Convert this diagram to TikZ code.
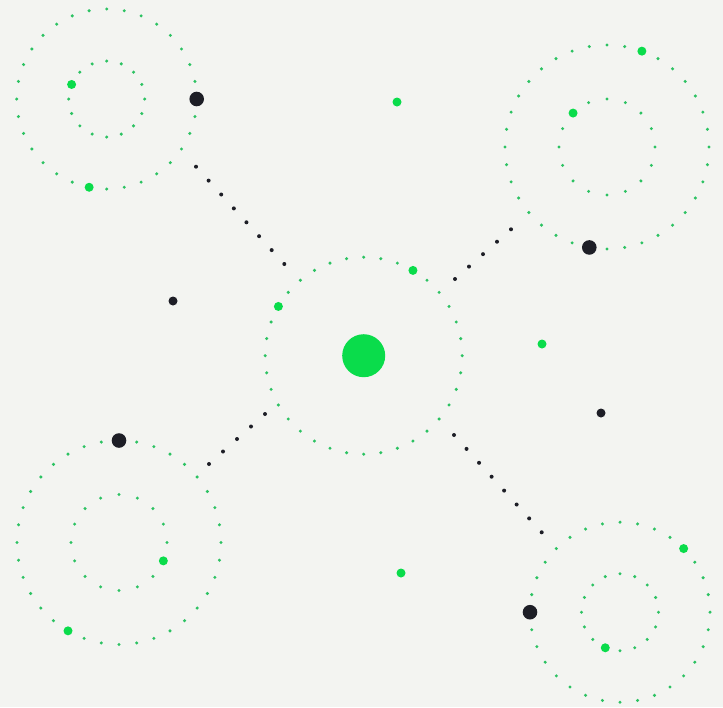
\documentclass[tikz,border=0pt]{standalone}
\usetikzlibrary{calc}
\definecolor{bg}{HTML}{F3F4F1}
\definecolor{brightgreen}{HTML}{0ADC4B}
\definecolor{ringgreen}{HTML}{2CC262}
\definecolor{ink}{HTML}{1D1E26}
\begin{document}
\begin{tikzpicture}[x=1pt,y=-1pt,
  ringdot/.style={fill=ringgreen},
  linkdot/.style={fill=ink},
  gdot/.style={circle, fill=brightgreen, inner sep=0pt, minimum size=9pt},
  hub/.style={circle, fill=brightgreen, inner sep=0pt, minimum size=43pt},
  bdot/.style={circle, fill=ink, inner sep=0pt, minimum size=14.6pt},
  sdot/.style={circle, fill=ink, inner sep=0pt, minimum size=9pt}]
\fill[bg] (0,0) rectangle (723,707);
\useasboundingbox (0,0) rectangle (723,707);
% ring centres
\coordinate (tl) at (106.7,99);
\coordinate (tr) at (607,147);
\coordinate (bl) at (119,542.5);
\coordinate (br) at (620,612.2);
\coordinate (ct) at (363.7,355.7);
% dotted rings
\foreach \c/\r/\n in {tl/90/32, tl/38/16, tr/102/36, tr/48/16, bl/102/36, bl/48/16, br/90/32, br/38.5/16, ct/98.5/36}
  \foreach \i in {1,...,\n}
    \fill[ringdot] ($(\c)+({360*\i/\n}:\r pt)$) circle[radius=1.7pt];
% dotted links
\coordinate (a1) at (196,166.7);   \coordinate (a2) at (284.3,264);
\coordinate (b1) at (511,229.3);   \coordinate (b2) at (455,279);
\coordinate (c1) at (265,414);     \coordinate (c2) at (209,464);
\coordinate (d1) at (454,435);     \coordinate (d2) at (541.7,532.3);
\foreach \p/\q/\n in {a1/a2/7, b1/b2/4, c1/c2/4, d1/d2/7}
  \foreach \k in {0,...,\n}
    \fill[linkdot] ($(\p)!{\k/\n}!(\q)$) circle[radius=2pt];
% hub
\node[hub] (h) at (ct) {};
\node[gdot] (h1) at ($(ct)+(60:98.5pt)$) {};
\node[gdot] (h2) at ($(ct)+(150:98.5pt)$) {};
% top-left
\node[bdot] (tlb) at ($(tl)+(0:90pt)$) {};
\node[gdot] (tlg1) at ($(tl)+(258.75:90pt)$) {};
\node[gdot] (tlg2) at ($(tl)+(157.5:38pt)$) {};
% top-right
\node[bdot] (trb) at ($(tr)+(260:102pt)$) {};
\node[gdot] (trg1) at ($(tr)+(70:102pt)$) {};
\node[gdot] (trg2) at ($(tr)+(135:48pt)$) {};
% bottom-left
\node[bdot] (blb) at ($(bl)+(90:102pt)$) {};
\node[gdot] (blg1) at ($(bl)+(240:102pt)$) {};
\node[gdot] (blg2) at ($(bl)+(-22.5:48pt)$) {};
% bottom-right
\node[bdot] (brb) at ($(br)+(180:90pt)$) {};
\node[gdot] (brg1) at ($(br)+(45:90pt)$) {};
\node[gdot] (brg2) at ($(br)+(247.5:38.5pt)$) {};
% free dots
\node[gdot] (f1) at (397,102) {};
\node[gdot] (f2) at (542,344) {};
\node[gdot] (f3) at (401,573) {};
\node[sdot] (f4) at (173,301) {};
\node[sdot] (f5) at (601,413) {};
\end{tikzpicture}
\end{document}
